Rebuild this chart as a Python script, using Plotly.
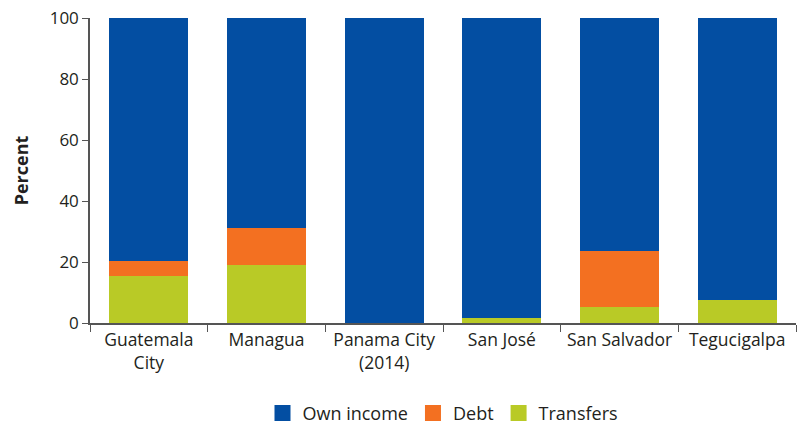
import plotly.graph_objects as go

categories = ["Guatemala<br>City", "Managua", "Panama City<br>(2014)", "San José", "San Salvador", "Tegucigalpa"]
transfers = [15.4, 19.0, 0.0, 1.6, 5.2, 7.5]
debt = [4.9, 12.1, 0.0, 0.0, 18.4, 0.0]
own_income = [79.7, 68.9, 100.0, 98.4, 76.4, 92.5]

series = [("Transfers", transfers, "#B9CA26"), ("Debt", debt, "#F37021"), ("Own income", own_income, "#034EA2")]

fig = go.Figure()
for name, vals, col in series:
    fig.add_bar(x=categories, y=vals, name=name, marker_color=col, marker_line_width=0, showlegend=False)
# legend entries with larger square swatches
for name, vals, col in reversed(series):
    fig.add_scatter(x=[None], y=[None], mode="markers", name=name,
                    marker=dict(symbol="square", size=16, color=col))

FONT = "Open Sans, sans-serif"
fig.update_layout(
    barmode="stack",
    bargap=0.33,
    width=797, height=426,
    margin=dict(l=90, r=1, t=18, b=103, autoexpand=False),
    plot_bgcolor="white", paper_bgcolor="white",
    font=dict(family=FONT, size=18, color="#231f20"),
    legend=dict(orientation="h", x=0.5, xanchor="center", y=-0.235, yanchor="top",
                traceorder="normal", font=dict(size=18), itemwidth=30, tracegroupgap=0),
    showlegend=True,
    hovermode=False,
)
fig.update_xaxes(showline=True, linecolor="#555", linewidth=1.5, ticks="outside",
                 tickson="boundaries", ticklen=7, tickcolor="#555", showgrid=False,
                 tickangle=0, ticklabeloverflow="allow", tickfont=dict(size=17.5))
fig.update_yaxes(range=[0, 100], tickvals=[0, 20, 40, 60, 80, 100], showline=True,
                 linecolor="#555", linewidth=1.5, ticks="outside", ticklen=6,
                 tickcolor="#555", showgrid=False, zeroline=False,
                 ticklabeloverflow="allow",
                 title=dict(text="<b>Percent</b>", font=dict(size=18), standoff=16),
                 tickfont=dict(size=17))

fig.write_html("out.html", config={"displayModeBar": False},
               post_script="document.body.style.margin='0';")
